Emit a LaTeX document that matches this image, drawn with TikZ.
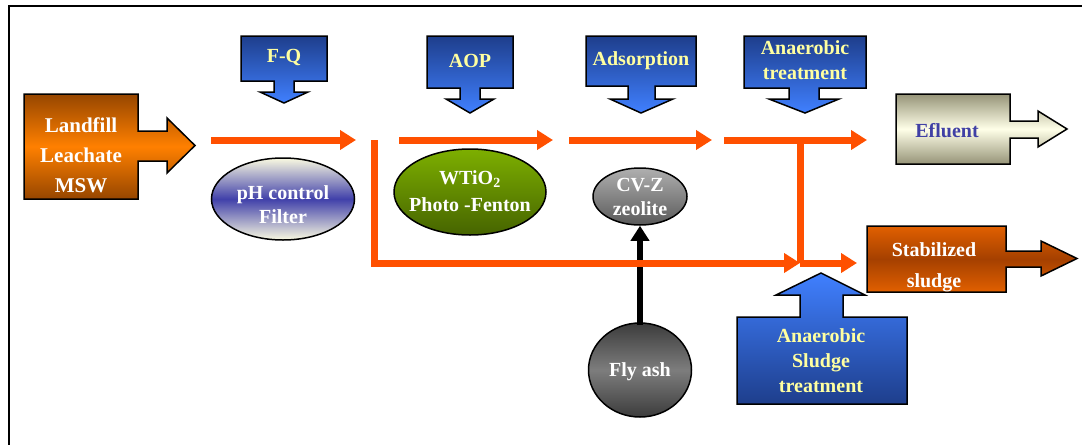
\documentclass[tikz,border=0pt]{standalone}
\usepackage{fontspec}
\setmainfont{Liberation Serif}
\usetikzlibrary{arrows.meta,shapes.geometric}
\definecolor{flow}{RGB}{255,80,0}
\definecolor{bluedark}{RGB}{30,62,140}
\definecolor{bluelight}{RGB}{64,128,255}
\definecolor{labelyellow}{RGB}{255,255,160}
\definecolor{orbright}{RGB}{255,128,0}
\definecolor{ordark}{RGB}{150,70,0}
\definecolor{stabor}{RGB}{225,96,0}
\definecolor{stabdark}{RGB}{165,64,0}
\definecolor{efkhaki}{RGB}{150,148,120}
\definecolor{efcream}{RGB}{255,255,232}
\definecolor{eftext}{RGB}{64,64,165}
\definecolor{phcream}{RGB}{250,250,225}
\definecolor{phblue}{RGB}{64,64,170}
\definecolor{greentop}{RGB}{125,175,0}
\definecolor{greenbot}{RGB}{70,100,0}
\definecolor{graylight}{RGB}{175,175,175}
\definecolor{graydark}{RGB}{90,90,90}
\definecolor{ashdark}{RGB}{60,60,60}
\definecolor{ashmid}{RGB}{125,125,125}
\begin{document}
\begin{tikzpicture}[x=1pt,y=-1pt,
  lbl/.style={font=\fontsize{20}{25}\selectfont\bfseries, align=center, inner sep=0pt},
  outl/.style={draw=black, line width=1.5pt, line join=miter},
  bluedown/.style={outl, top color=bluedark, bottom color=bluelight},
  blueup/.style={outl, top color=bluelight, bottom color=bluedark},
  flowline/.style={draw=flow, line width=7pt},
  flowarrow/.style={flowline, -{Triangle[width=19pt,length=16pt]}},
  blob/.style={ellipse, outl, inner sep=0pt}]
\useasboundingbox (0,0) rectangle (1082,445);
% frame
\draw[line width=2pt] (1082,6) -- (9,6) -- (9,445);

% Landfill box with right arrow
\path[outl, top color=ordark, bottom color=ordark, middle color=orbright]
  (24,94) -- (138,94) -- (138,131) -- (167,131) -- (167,118) -- (195,145.5)
  -- (167,173) -- (167,161) -- (138,161) -- (138,199) -- (24,199) -- cycle;
\node[lbl, white, font=\fontsize{21}{30}\selectfont\bfseries] (landfill) at (81,155) {Landfill\\Leachate\\MSW};

% down callouts
\path[bluedown] (241,36) -- (327,36) -- (327,81) -- (294,81) -- (294,92) -- (308,92)
  -- (284,103) -- (260,92) -- (274,92) -- (274,81) -- (241,81) -- cycle;
\node[lbl, labelyellow] (fq) at (284,57) {F-Q};

\path[bluedown] (427,36) -- (513,36) -- (513,88) -- (480,88) -- (480,99) -- (494,99)
  -- (470,113) -- (446,99) -- (460,99) -- (460,88) -- (427,88) -- cycle;
\node[lbl, labelyellow] (aop) at (470,61) {AOP};

\path[bluedown] (586,36) -- (696,36) -- (696,86) -- (655,86) -- (655,99) -- (673,99)
  -- (641,113) -- (610,99) -- (628,99) -- (628,86) -- (586,86) -- cycle;
\node[lbl, labelyellow] (adsorp) at (641,61) {Adsorption};

\path[bluedown] (744,36) -- (866,36) -- (866,88) -- (819,88) -- (819,99) -- (839,99)
  -- (805,113) -- (769,99) -- (789,99) -- (789,88) -- (744,88) -- cycle;
\node[lbl, labelyellow] (anaer) at (805,60) {Anaerobic\\treatment};

% up callout
\path[blueup] (737,317) -- (800,317) -- (800,295) -- (776,295) -- (821,273) -- (865,295)
  -- (843,295) -- (843,317) -- (907,317) -- (907,404) -- (737,404) -- cycle;
\node[lbl, labelyellow] (anslud) at (821,361) {Anaerobic\\Sludge\\treatment};

% Efluent
\path[outl, top color=efkhaki, bottom color=efkhaki, middle color=efcream]
  (896,94) -- (1010,94) -- (1010,121) -- (1038,121) -- (1038,111) -- (1067,129)
  -- (1038,147) -- (1038,138) -- (1010,138) -- (1010,164) -- (896,164) -- cycle;
\node[lbl, eftext] (efl) at (947,131) {Efluent};

% Stabilized sludge
\path[outl, top color=stabor, bottom color=stabor, middle color=stabdark]
  (867,226) -- (1006,226) -- (1006,251) -- (1041,251) -- (1041,241) -- (1077,258.5)
  -- (1041,276) -- (1041,267) -- (1006,267) -- (1006,292) -- (867,292) -- cycle;
\node[lbl, white, font=\fontsize{20}{31}\selectfont\bfseries] (stab) at (934,267) {Stabilized\\sludge};

% ellipses
\node[blob, minimum width=143pt, minimum height=82pt,
  top color=phcream, bottom color=phcream, middle color=phblue] (ph) at (283,199) {};
\node[lbl, white, font=\fontsize{20}{24}\selectfont\bfseries] (phl) at (283,205) {pH control\\Filter};

\node[blob, minimum width=152pt, minimum height=86pt,
  top color=greentop, bottom color=greenbot] (wt) at (470,192) {};
\node[lbl, white, font=\fontsize{20}{27}\selectfont\bfseries] (wtl) at (470,191) {WTiO\textsubscript{2}\\Photo -Fenton};

\node[blob, minimum width=94pt, minimum height=57pt,
  top color=graylight, bottom color=graydark] (cvz) at (640,196.5) {};
\node[lbl, white, font=\fontsize{20}{24}\selectfont\bfseries] (cvzl) at (640,197) {CV-Z\\zeolite};

\node[blob, minimum width=103pt, minimum height=94pt,
  top color=ashdark, bottom color=ashdark, middle color=ashmid] (fly) at (640,370) {};
\node[lbl, white] (flyl) at (640,372) {Fly ash};

\draw[black, line width=6pt, -{Triangle[width=18pt,length=15pt]}] ([yshift=-3pt]fly.north) -- (cvz.south);

% orange flow
\coordinate (a1s) at (211,140); \coordinate (a1e) at (356,140);
\coordinate (a2s) at (399,140); \coordinate (a2e) at (553,140);
\coordinate (a3s) at (569,140); \coordinate (a3e) at (712,140);
\coordinate (a4s) at (724,140); \coordinate (a4e) at (867,140);
\coordinate (bys) at (374,140); \coordinate (byc) at (374,263);
\coordinate (bye) at (800,263);
\coordinate (brs) at (800,140); \coordinate (bre) at (857,263);
\draw[flowarrow] (a1s) -- (a1e);
\draw[flowarrow] (a2s) -- (a2e);
\draw[flowarrow] (a3s) -- (a3e);
\draw[flowarrow] (a4s) -- (a4e);
\draw[flowarrow] (bys) -- (byc) -- (bye);
\draw[flowline] (brs) -- (bye);
\draw[flowarrow] (bye) -- (bre);
\end{tikzpicture}
\end{document}
